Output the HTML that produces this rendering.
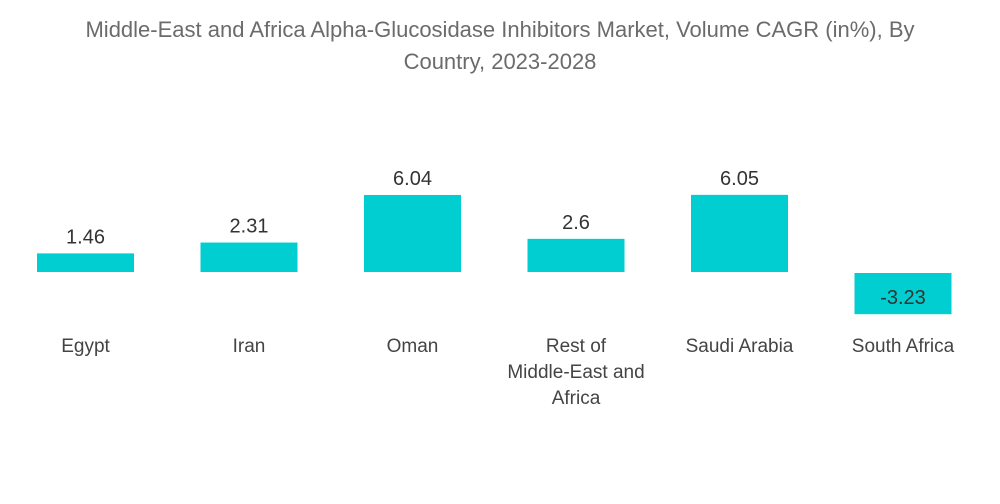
<!DOCTYPE html>
<html><head><meta charset="utf-8">
<style>
body{margin:0;background:#fff;width:1000px;height:504px;overflow:hidden;font-family:"Liberation Sans",sans-serif;}
#title{position:absolute;left:0;top:14px;width:1000px;text-align:center;font-size:22px;line-height:32px;color:#6b6b6b;}
svg{position:absolute;left:0;top:0;}
</style></head>
<body>
<div id="title">Middle-East and Africa Alpha-Glucosidase Inhibitors Market, Volume CAGR (in%), By<br>Country, 2023-2028</div>
<svg id="chart" width="1000" height="504"></svg>
<script>
const categories = ["Egypt","Iran","Oman","Rest of|Middle-East and|Africa","Saudi Arabia","South Africa"];
const values = [1.46,2.31,6.04,2.6,6.05,-3.23];
const labels = ["1.46","2.31","6.04","2.6","6.05","-3.23"];
const svg = document.getElementById('chart');
const NS = 'http://www.w3.org/2000/svg';
const zeroY = 272, pxPerUnit = 12.75, firstCenter = 85.5, step = 163.5, barW = 97;
function xPos(i){return firstCenter + i*step;}
function yPos(v){return zeroY - v*pxPerUnit;}
categories.forEach((c,i)=>{
  const v = values[i];
  const y0 = Math.min(yPos(v), zeroY), h = Math.abs(yPos(v)-zeroY);
  const r = document.createElementNS(NS,'rect');
  r.setAttribute('x', xPos(i)-barW/2); r.setAttribute('y', v<0?zeroY+1:y0);
  r.setAttribute('width', barW); r.setAttribute('height', h);
  r.setAttribute('fill', '#00ced1');
  
  
  svg.appendChild(r);
  const t = document.createElementNS(NS,'text');
  t.setAttribute('x', xPos(i)); t.setAttribute('y', v<0 ? yPos(v)-9 : yPos(v)-10);
  t.setAttribute('text-anchor','middle'); t.setAttribute('font-size','20');
  t.setAttribute('fill','#333');
  t.textContent = labels[i];
  
  
  svg.appendChild(t);
  const lines = c.split('|');
  lines.forEach((ln,k)=>{
    const ct = document.createElementNS(NS,'text');
    ct.setAttribute('x', xPos(i)); ct.setAttribute('y', 352 + k*26);
    ct.setAttribute('text-anchor','middle'); ct.setAttribute('font-size','19');
    ct.setAttribute('fill','#444');
    ct.textContent = ln;
    
    
    svg.appendChild(ct);
  });
});
</script>
</body></html>
